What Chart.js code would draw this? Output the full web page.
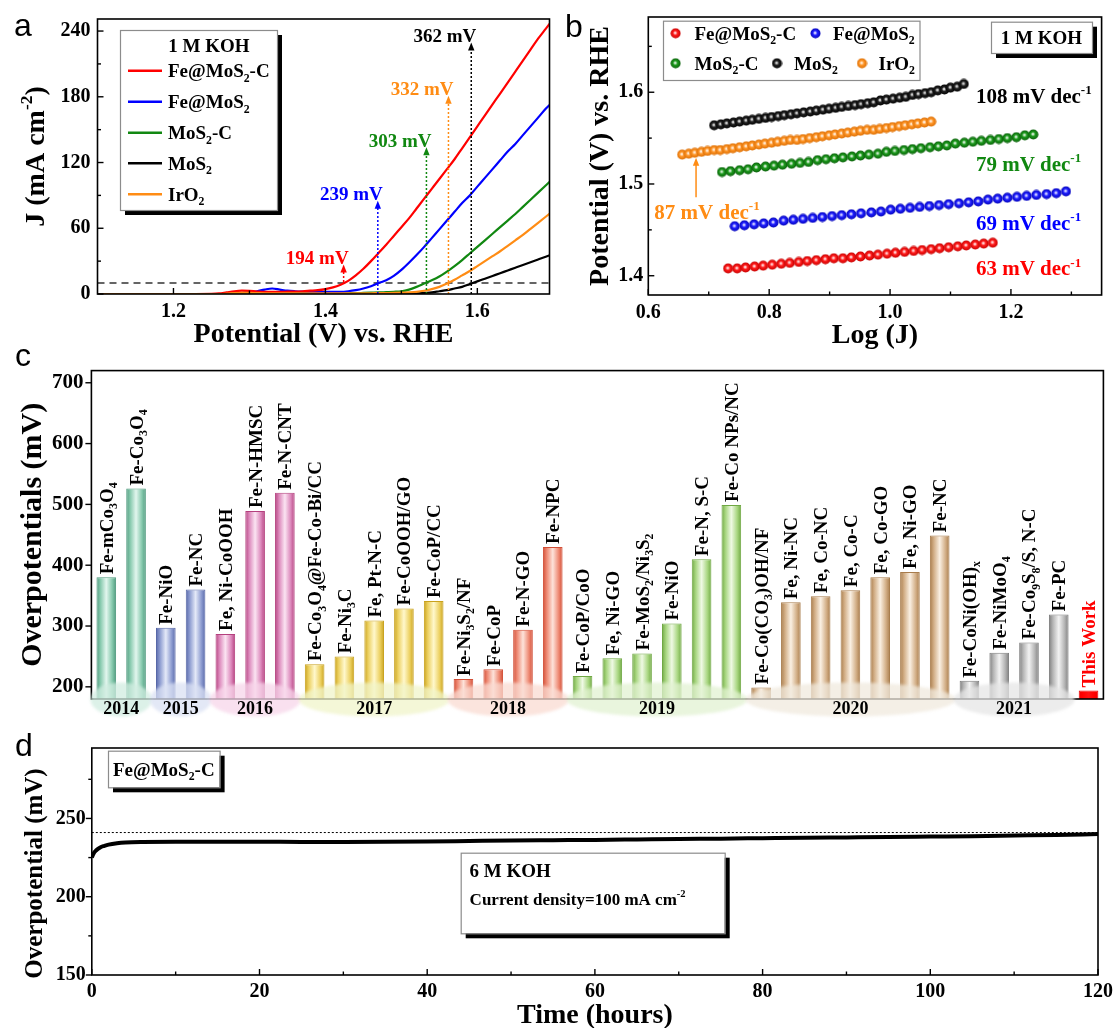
<!DOCTYPE html>
<html><head><meta charset="utf-8">
<script src="https://cdn.jsdelivr.net/npm/chart.js@4.4.1/dist/chart.umd.min.js"></script>
<style>
html,body{margin:0;padding:0;background:#fff;}
#wrap{position:relative;width:1118px;height:1028px;overflow:hidden;background:#fff;}
canvas{position:absolute;}
.pl{position:absolute;font-family:'Liberation Sans',Arial,sans-serif;font-size:32px;line-height:32px;color:#000;}
</style></head><body>
<div id="wrap">
<canvas id="ca" style="left:0;top:0" width="560" height="350"></canvas>
<canvas id="cb" style="left:560px;top:0" width="558" height="350"></canvas>
<canvas id="cc" style="left:0;top:350px" width="1118" height="385"></canvas>
<canvas id="cd" style="left:0;top:730px" width="1118" height="298"></canvas>
<div class="pl" style="left:14px;top:9px">a</div>
<div class="pl" style="left:565px;top:10px">b</div>
<div class="pl" style="left:15px;top:339px">c</div>
<div class="pl" style="left:15px;top:729px">d</div>
</div>
<script>
// ================= DATA =================
// Panel a: LSV curves
const potentialA = [1.10,1.15,1.20,1.25,1.26,1.27,1.28,1.29,1.30,1.31,1.32,1.33,1.34,1.35,1.36,1.37,1.38,1.39,1.40,1.41,1.42,1.43,1.44,1.45,1.46,1.47,1.48,1.49,1.50,1.51,1.52,1.53,1.54,1.55,1.56,1.57,1.58,1.59,1.60,1.61,1.62,1.63,1.64,1.65,1.66,1.67,1.68,1.69,1.70];
const jFeMoS2C = [0,0,0,0.2, 0.5,1.5,2.5,3,2.8, 2.3,2,2,2,2.1, 2.2,2.5,3,3.5,4.5, 6,8.5,12,17,23, 30,37.5,45,53,61, 69,78,87,96,105, 114,123,133,143,153, 163,173,183,193,203, 213,223,233,242,251];
const jFeMoS2  = [0,0,0,0, 0,0,0.3,0.8,1.5, 2.5,4,5,4,3, 2.5,2.2,2,2,2, 2,2,2.5,3.5,5, 7,10,12.5,16.5,22, 28.5,35.5,43,51,59, 67,75,83,90,98, 106,114,122,130,137, 145,153,161,169,176];
const jMoS2C   = [0,0,0,0, 0,0,0.5,1,1.5, 1.5,1.5,1.5,1.5,1.5, 1.2,1,0.8,0.7,0.6, 0.6,0.6,0.7,0.8,1, 1.2,1.4,1.7,2,2.5, 4,6.5,9.5,12.5,16, 20.5,25.5,31,37,43, 49,55,61,67,73, 79.5,86,92.5,99,105.5];
const jMoS2    = [0,0,0,0, 0,0,0,0,0, 0,0,0,0,0, 0,0,0,0,0, 0,0,0,0,0, 0,0,0,0,0.1, 0.2,0.5,1,1.5,2.5, 3.5,5,6.5,9,11.5, 14,16.5,19,21.5,24, 26.5,29,31.5,34,36.5];
const jIrO2    = [0,0,0,0, 0,0.3,0.8,1,1, 0.8,0.6,0.5,0.5,0.5, 0.5,0.5,0.5,0.5,0.5, 0.5,0.5,0.5,0.5,0.6, 0.7,0.8,0.9,1,1.2, 1.5,2,3,4.5,6.5, 9.5,13,17,21,25.5, 30,34.5,39,44,49, 54,59.5,65,70.5,76];
const refCurrent = 10;
const onsetPotential = [1.424,1.469,1.533,1.562,1.592];
const onsetLabels = ['194 mV','239 mV','303 mV','332 mV','362 mV'];
const onsetArrowBase = [11,0,0,0,0];
const onsetArrowTop = [27,85,134,181,229.5];

// Panel b: Tafel plots
const logJ_FeMoS2C = [0.732,0.747,0.761,0.776,0.790,0.805,0.820,0.834,0.849,0.863,0.878,0.893,0.907,0.922,0.936,0.951,0.966,0.980,0.995,1.009,1.024,1.039,1.053,1.068,1.082,1.097,1.112,1.126,1.141,1.155,1.170];
const E_FeMoS2C    = [1.408,1.408,1.409,1.410,1.411,1.412,1.413,1.414,1.415,1.416,1.417,1.418,1.419,1.419,1.420,1.421,1.422,1.423,1.424,1.425,1.426,1.427,1.428,1.429,1.430,1.431,1.432,1.433,1.434,1.435,1.436];
const logJ_FeMoS2  = [0.743,0.759,0.775,0.791,0.807,0.824,0.840,0.856,0.872,0.888,0.904,0.920,0.936,0.952,0.969,0.985,1.001,1.017,1.033,1.049,1.065,1.081,1.097,1.114,1.130,1.146,1.162,1.178,1.194,1.210,1.226,1.242,1.259,1.275,1.291];
const E_FeMoS2     = [1.454,1.455,1.456,1.457,1.458,1.460,1.461,1.462,1.463,1.464,1.465,1.466,1.467,1.468,1.469,1.470,1.472,1.473,1.474,1.475,1.476,1.477,1.478,1.479,1.480,1.481,1.483,1.484,1.485,1.486,1.487,1.488,1.489,1.490,1.492];
const logJ_MoS2C   = [0.722,0.736,0.751,0.765,0.779,0.794,0.808,0.822,0.837,0.851,0.865,0.880,0.894,0.908,0.922,0.937,0.951,0.965,0.980,0.994,1.008,1.023,1.037,1.051,1.066,1.080,1.094,1.108,1.123,1.137,1.151,1.166,1.180,1.194,1.209,1.223,1.237];
const E_MoS2C      = [1.513,1.514,1.515,1.516,1.518,1.519,1.520,1.521,1.522,1.523,1.524,1.526,1.527,1.528,1.529,1.530,1.531,1.532,1.533,1.535,1.536,1.537,1.538,1.539,1.540,1.541,1.542,1.544,1.545,1.546,1.547,1.548,1.549,1.550,1.551,1.553,1.554];
const logJ_MoS2    = [0.709,0.720,0.730,0.741,0.751,0.762,0.772,0.783,0.794,0.804,0.815,0.825,0.836,0.846,0.857,0.868,0.878,0.889,0.899,0.910,0.920,0.931,0.942,0.952,0.963,0.973,0.984,0.994,1.005,1.016,1.026,1.037,1.047,1.058,1.068,1.079,1.090,1.100,1.111,1.122];
const E_MoS2       = [1.564,1.565,1.566,1.567,1.568,1.569,1.570,1.571,1.572,1.573,1.574,1.575,1.576,1.577,1.578,1.579,1.580,1.581,1.582,1.583,1.584,1.585,1.586,1.587,1.588,1.589,1.591,1.592,1.593,1.594,1.595,1.597,1.598,1.599,1.600,1.602,1.603,1.605,1.606,1.609];
const logJ_IrO2    = [0.656,0.667,0.677,0.688,0.698,0.709,0.719,0.730,0.740,0.751,0.762,0.772,0.783,0.793,0.804,0.814,0.825,0.835,0.846,0.856,0.867,0.878,0.888,0.899,0.909,0.920,0.930,0.941,0.951,0.962,0.973,0.983,0.994,1.004,1.015,1.025,1.036,1.046,1.057,1.068];
const E_IrO2       = [1.532,1.533,1.534,1.535,1.536,1.537,1.537,1.538,1.539,1.540,1.541,1.542,1.543,1.544,1.545,1.546,1.547,1.548,1.548,1.549,1.550,1.551,1.552,1.553,1.554,1.555,1.556,1.557,1.558,1.559,1.559,1.560,1.561,1.562,1.563,1.564,1.565,1.566,1.567,1.568];
const tafelSlopes = ['63 mV dec^{-1}','69 mV dec^{-1}','79 mV dec^{-1}','108 mV dec^{-1}','87 mV dec^{-1}'];

// Panel c: literature comparison
const catalysts = ['Fe-mCo_{3}O_{4}','Fe-Co_{3}O_{4}','Fe-NiO','Fe-NC','Fe, Ni-CoOOH','Fe-N-HMSC','Fe-N-CNT',
 'Fe-Co_{3}O_{4}@Fe-Co-Bi/CC','Fe-Ni_{3}C','Fe, Pt-N-C','Fe-CoOOH/GO','Fe-CoP/CC',
 'Fe-Ni_{3}S_{2}/NF','Fe-CoP','Fe-N-GO','Fe-NPC',
 'Fe-CoP/CoO','Fe, Ni-GO','Fe-MoS_{2}/Ni_{3}S_{2}','Fe-NiO','Fe-N, S-C','Fe-Co NPs/NC',
 'Fe-Co(CO_{3})OH/NF','Fe, Ni-NC','Fe, Co-NC','Fe, Co-C','Fe, Co-GO','Fe, Ni-GO','Fe-NC',
 'Fe-CoNi(OH)_{x}','Fe-NiMoO_{4}','Fe-Co_{9}S_{8}/S, N-C','Fe-PC','This Work'];
const overpotentials = [380,526,297,360,287,489,519,237,250,309,329,341,213,229,294,430,218,247,255,304,410,499,199,339,349,359,380,389,449,210,256,273,319,194];
const pubYears = ['2014','2014','2015','2015','2016','2016','2016','2017','2017','2017','2017','2017','2018','2018','2018','2018','2019','2019','2019','2019','2019','2019','2020','2020','2020','2020','2020','2020','2020','2021','2021','2021','2021','This Work'];

// Panel d: stability
const timeHours = [0,0.2,0.5,1,1.5,2,3,4,6,10,15,20,25,30,35,40,45,50,55,60,65,70,75,80,85,90,95,100,105,110,115,120];
const etaStability = [225,227.5,229.5,231.5,232.5,233.3,234.2,234.7,235,235.1,235.1,235.1,235,235,235.1,235.3,235.6,235.9,236.1,236.3,236.6,236.9,237.1,237.4,237.7,237.9,238.1,238.4,238.7,239.1,239.5,240];
const etaReference = 241;

// ================= STYLE / HELPERS =================
const SERIF = "'Liberation Serif','Times New Roman',serif";
Chart.defaults.font.family = SERIF;
Chart.defaults.font.weight = 'bold';
Chart.defaults.color = '#000';
const RED='#ff0000', BLUE='#0000ff', GREEN='#118811', BLACK='#000000', ORANGE='#ff8c14';

function parseRich(s){const out=[];let i=0,buf='';while(i<s.length){const c=s[i];if((c==='_'||c==='^')&&s[i+1]==='{'){if(buf){out.push({t:buf,m:0});buf='';}const j=s.indexOf('}',i);out.push({t:s.slice(i+2,j),m:c==='_'?1:2});i=j+1;}else{buf+=c;i++;}}if(buf)out.push({t:buf,m:0});return out;}
function plain(s){return parseRich(s).map(x=>x.t).join('');}
function richWidth(ctx,s,size){let w=0;for(const g of parseRich(s)){ctx.font=`bold ${g.m?size*0.62:size}px ${SERIF}`;w+=ctx.measureText(g.t).width;}return w;}
function drawRich(ctx,s,x,y,size,color,align){const w=richWidth(ctx,s,size);let cx=align==='center'?x-w/2:align==='right'?x-w:x;ctx.save();ctx.fillStyle=color;ctx.textBaseline='alphabetic';ctx.textAlign='left';for(const g of parseRich(s)){const fs=g.m?size*0.62:size;ctx.font=`bold ${fs}px ${SERIF}`;const dy=g.m===1?size*0.24:g.m===2?-size*0.42:0;ctx.fillText(g.t,cx,y+dy);cx+=ctx.measureText(g.t).width;}ctx.restore();return w;}
function drawRichRot(ctx,s,cx,cy,size,color){ctx.save();ctx.translate(cx,cy);ctx.rotate(-Math.PI/2);drawRich(ctx,s,0,size*0.34,size,color,'center');ctx.restore();}
function seg(ctx,x1,y1,x2,y2){ctx.beginPath();ctx.moveTo(x1,y1);ctx.lineTo(x2,y2);ctx.stroke();}
function shadowBox(ctx,x,y,w,h,sh){ctx.save();if(sh){ctx.fillStyle='#000';ctx.fillRect(x+sh,y+sh,w,h);}ctx.fillStyle='#fff';ctx.fillRect(x,y,w,h);ctx.strokeStyle='#8c8c8c';ctx.lineWidth=1.2;ctx.strokeRect(x+0.5,y+0.5,w,h);ctx.restore();}
function upArrow(ctx,x,yBase,yTip,color,dash){ctx.save();ctx.strokeStyle=color;ctx.fillStyle=color;ctx.lineWidth=1.5;if(dash)ctx.setLineDash(dash);seg(ctx,x,yBase,x,yTip+6);ctx.setLineDash([]);ctx.beginPath();ctx.moveTo(x,yTip);ctx.lineTo(x-3.2,yTip+8);ctx.lineTo(x+3.2,yTip+8);ctx.closePath();ctx.fill();ctx.restore();}

function frameTicks(o){
  return {id:'frameTicks',afterDraw(chart){
    const {ctx,chartArea:a}=chart;const xs=chart.scales.x,ys=chart.scales.y;
    ctx.save();ctx.strokeStyle='#000';ctx.setLineDash([]);ctx.lineWidth=1.6;
    ctx.strokeRect(a.left,a.top,a.right-a.left,a.bottom-a.top);
    ctx.lineWidth=1.4;
    if(o.xTick){xs.ticks.forEach(t=>{const p=xs.getPixelForValue(t.value);seg(ctx,p,a.bottom,p,a.bottom-o.xTick*6);});
      (o.xMinor||[]).forEach(v=>{const p=xs.getPixelForValue(v);if(p>a.left+1&&p<a.right-1)seg(ctx,p,a.bottom,p,a.bottom-o.xTick*3.5);});}
    if(o.yTick){ys.ticks.forEach(t=>{const p=ys.getPixelForValue(t.value);seg(ctx,a.left,p,a.left+o.yTick*6,p);});
      (o.yMinor||[]).forEach(v=>{const p=ys.getPixelForValue(v);if(p>a.top+1&&p<a.bottom-1)seg(ctx,a.left,p,a.left+o.yTick*3.5,p);});}
    ctx.restore();
  }};
}
function axisOpts(o){
  const t={font:{size:o.font,weight:'bold',family:SERIF},color:'#000',padding:o.pad,maxRotation:0,includeBounds:false};
  if(o.step!==undefined)t.stepSize=o.step;
  if(o.fmt)t.callback=o.fmt;
  if(o.hide)t.display=false;
  const r={type:o.type||'linear',grid:{display:false,drawTicks:false,tickLength:0},border:{display:false},ticks:t};
  if(o.min!==undefined)r.min=o.min; if(o.max!==undefined)r.max=o.max;
  if(o.offset!==undefined)r.offset=o.offset;
  if(o.w!==undefined)r.afterFit=s=>{s.width=o.w;};
  if(o.h!==undefined)r.afterFit=s=>{s.height=o.h;};
  return r;
}
function baseOptions(pad,x,y){
  return {responsive:false,animation:false,devicePixelRatio:1,
    layout:{padding:pad},
    plugins:{legend:{display:false},tooltip:{enabled:false}},
    scales:{x:axisOpts(x),y:axisOpts(y)}};
}
const xy=(xs,ys)=>xs.map((v,i)=>({x:v,y:ys[i]}));

// ================= PANEL A =================
const seriesA=[
 {name:'IrO_{2}',data:jIrO2,color:ORANGE},
 {name:'Fe@MoS_{2}-C',data:jFeMoS2C,color:RED},
 {name:'Fe@MoS_{2}',data:jFeMoS2,color:BLUE},
 {name:'MoS_{2}-C',data:jMoS2C,color:GREEN},
 {name:'MoS_{2}',data:jMoS2,color:BLACK}];
const legendOrderA=[1,2,3,4,0];
const onsetColors=[RED,BLUE,GREEN,ORANGE,BLACK];
new Chart(document.getElementById('ca'),{
  type:'line',
  data:{datasets:[...seriesA.map(s=>({label:plain(s.name),data:xy(potentialA,s.data),borderColor:s.color,borderWidth:2.2,pointRadius:0,cubicInterpolationMode:'monotone',fill:false})),
    {label:'10 mA cm-2',data:[{x:1.1,y:refCurrent},{x:1.7,y:refCurrent}],borderColor:'#333',borderWidth:1.5,borderDash:[7,5],pointRadius:0}]},
  options:baseOptions({top:16,right:10.5,left:0,bottom:0},
    {min:1.1,max:1.695,step:0.2,font:20,pad:6,fmt:v=>v.toFixed(1),h:56},
    {min:0,max:251,step:60,font:20,pad:7,w:97.5}),
  plugins:[frameTicks({xTick:1,yTick:1,xMinor:[1.1,1.3,1.5],yMinor:[30,90,150,210]}),
  {id:'annA',afterDatasetsDraw(chart){
    const {ctx}=chart;const xs=chart.scales.x,ys=chart.scales.y;
    onsetPotential.forEach((v,i)=>{const px=xs.getPixelForValue(v);const yt=ys.getPixelForValue(onsetArrowTop[i]);
      upArrow(ctx,px,ys.getPixelForValue(onsetArrowBase[i]),yt,onsetColors[i],[2,2]);
      drawRich(ctx,onsetLabels[i],px+5,yt-0.5,19,onsetColors[i],'right');});
  },afterDraw(chart){
    const {ctx,chartArea:a}=chart;
    shadowBox(ctx,120,30,157,180,5);
    drawRich(ctx,'1 M KOH',209,52,19,'#000','center');
    const rows=[70.7,101.7,132.7,163.3,194.3];
    legendOrderA.forEach((k,i)=>{const s=seriesA[k];ctx.save();ctx.strokeStyle=s.color;ctx.lineWidth=2.5;seg(ctx,128,rows[i],162,rows[i]);ctx.restore();
      drawRich(ctx,s.name,168,rows[i]+6.5,19,'#000','left');});
    drawRichRot(ctx,'J (mA cm^{-2})',34,(a.top+a.bottom)/2,28,'#000');
    drawRich(ctx,'Potential (V) vs. RHE',(a.left+a.right)/2,a.bottom+48,28,'#000','center');
  }}]
});

// ================= PANEL B =================
function sphere(color,dark){const c=document.createElement('canvas');c.width=c.height=11;const g=c.getContext('2d');
  const gr=g.createRadialGradient(5,5,0.2,5.5,5.5,5.4);gr.addColorStop(0,'#ffffff');gr.addColorStop(0.4,color);gr.addColorStop(1,dark);
  g.fillStyle=gr;g.beginPath();g.arc(5.5,5.5,5,0,Math.PI*2);g.fill();return c;}
const seriesB=[
 {name:'Fe@MoS_{2}-C',x:logJ_FeMoS2C,y:E_FeMoS2C,color:RED,img:sphere('#ff1a1a','#c00000')},
 {name:'Fe@MoS_{2}',x:logJ_FeMoS2,y:E_FeMoS2,color:BLUE,img:sphere('#2020ff','#0000b0')},
 {name:'MoS_{2}-C',x:logJ_MoS2C,y:E_MoS2C,color:GREEN,img:sphere('#1c9a1c','#0a5a0a')},
 {name:'MoS_{2}',x:logJ_MoS2,y:E_MoS2,color:BLACK,img:sphere('#222222','#000000')},
 {name:'IrO_{2}',x:logJ_IrO2,y:E_IrO2,color:ORANGE,img:sphere('#ff9628','#d86a00')}];
const slopeAnno=[
 {text:tafelSlopes[0],x:1.142,y:1.408,color:RED},
 {text:tafelSlopes[1],x:1.142,y:1.4575,color:BLUE},
 {text:tafelSlopes[2],x:1.142,y:1.522,color:GREEN},
 {text:tafelSlopes[3],x:1.142,y:1.5964,color:BLACK},
 {text:tafelSlopes[4],x:0.61,y:1.470,color:ORANGE}];
new Chart(document.getElementById('cb'),{
  type:'scatter',
  data:{datasets:seriesB.map(s=>({label:plain(s.name),data:xy(s.x,s.y),pointStyle:s.img,pointRadius:5,backgroundColor:s.color,borderColor:s.color,showLine:false}))},
  options:baseOptions({top:15,right:16.4,left:0,bottom:0},
    {min:0.6,max:1.35,step:0.2,font:20,pad:6,fmt:v=>v.toFixed(1),h:55},
    {min:1.379,max:1.682,step:0.1,font:20,pad:5,fmt:v=>v.toFixed(1),w:88.3}),
  plugins:[frameTicks({xTick:1,yTick:1,xMinor:[0.7,0.9,1.1,1.3],yMinor:[1.45,1.55,1.65]}),
  {id:'annB',afterDraw(chart){
    const {ctx,chartArea:a}=chart;const xs=chart.scales.x,ys=chart.scales.y;
    slopeAnno.forEach(s=>drawRich(ctx,s.text,xs.getPixelForValue(s.x),ys.getPixelForValue(s.y)+7,21,s.color,'left'));
    upArrow(ctx,xs.getPixelForValue(0.679),ys.getPixelForValue(1.4855),ys.getPixelForValue(1.5286),ORANGE,null);
    ctx.save();ctx.strokeStyle='#8c8c8c';ctx.lineWidth=1.2;ctx.fillStyle='#fff';ctx.fillRect(103,20.7,256.5,59.3);ctx.strokeRect(103.5,21.2,256.5,59.3);ctx.restore();
    const L=[[0,115.6,33.3,134.5],[1,255.5,33.3,273],[2,115.6,63.3,134.5],[3,217,63.3,234],[4,302,63.3,318.5]];
    L.forEach(([k,mx,my,tx])=>{const s=seriesB[k];ctx.drawImage(s.img,mx-5.5,my-5.5);drawRich(ctx,s.name,tx,my+6.5,19,'#000','left');});
    shadowBox(ctx,431,21.7,101,31.3,5);
    drawRich(ctx,'1 M KOH',481.5,44,19,'#000','center');
    drawRichRot(ctx,'Potential (V) vs. RHE',38,(a.top+a.bottom)/2,28,'#000');
    drawRich(ctx,'Log (J)',(a.left+a.right)/2,a.bottom+48,28,'#000','center');
  }}]
});

// ================= PANEL C =================
const yearStyle={
 '2014':{edge:'#4f9a7e',base:'#86c9ad',light:'#e2f6ee',ell:'rgba(208,236,224,0.75)'},
 '2015':{edge:'#5868a8',base:'#8c9bd0',light:'#e4e9f8',ell:'rgba(218,224,243,0.75)'},
 '2016':{edge:'#b4407e',base:'#dc88bb',light:'#fbe4f2',ell:'rgba(247,214,234,0.75)'},
 '2017':{edge:'#c9a21e',base:'#ecd060',light:'#fff8cc',ell:'rgba(240,244,202,0.75)'},
 '2018':{edge:'#d24e36',base:'#ee8a74',light:'#fde3da',ell:'rgba(250,219,210,0.75)'},
 '2019':{edge:'#70a844',base:'#a8d680',light:'#eff9e4',ell:'rgba(226,241,210,0.75)'},
 '2020':{edge:'#a87c4c',base:'#d2ae86',light:'#faf0e3',ell:'rgba(240,234,222,0.75)'},
 '2021':{edge:'#7e7e7e',base:'#b4b4b4',light:'#f3f3f3',ell:'rgba(230,230,230,0.75)'},
 'This Work':{edge:'#ee0000',base:'#ff0000',light:'#ff1010'}};
const BARPCT=0.66;
function barFill(c){const st=yearStyle[pubYears[c.dataIndex]];const ch=c.chart;const xs=ch.scales&&ch.scales.x;
  if(!xs||!ch.chartArea)return st.base;const cx=xs.getPixelForValue(c.dataIndex);if(!isFinite(cx))return st.base;
  const w=xs.width/pubYears.length*BARPCT;const g=ch.ctx.createLinearGradient(cx-w/2,0,cx+w/2,0);
  g.addColorStop(0,st.edge);g.addColorStop(0.2,st.base);g.addColorStop(0.5,st.light);g.addColorStop(0.8,st.base);g.addColorStop(1,st.edge);return g;}
const groups=[];pubYears.forEach((y,i)=>{if(y==='This Work')return;const g=groups[groups.length-1];if(g&&g.year===y)g.end=i;else groups.push({year:y,start:i,end:i});});
new Chart(document.getElementById('cc'),{
  type:'bar',
  data:{labels:catalysts.map(plain),datasets:[{label:'Overpotential (mV)',data:overpotentials,backgroundColor:barFill,borderColor:c=>yearStyle[pubYears[c.dataIndex]].edge,borderWidth:1,barPercentage:BARPCT,categoryPercentage:1}]},
  options:baseOptions({top:8.3,right:14.6,left:0,bottom:0},
    {type:'category',offset:true,hide:true,font:10,pad:0,h:36},
    {min:180,max:720,step:100,font:21,pad:8,w:91.4}),
  plugins:[{id:'lblC',afterDatasetsDraw(chart){
    const {ctx}=chart;const meta=chart.getDatasetMeta(0);
    meta.data.forEach((bar,i)=>{const isMe=pubYears[i]==='This Work';const txt=catalysts[i];const size=19;
      ctx.save();ctx.translate(bar.x,bar.y-3);ctx.rotate(-Math.PI/2);drawRich(ctx,txt,0,size*0.34,size,isMe?'#ff0000':'#000','left');ctx.restore();});
  }},
  frameTicks({yTick:-1}),
  {id:'yearsC',afterDraw(chart){
    const {ctx,chartArea:a}=chart;const xs=chart.scales.x;const cw=xs.width/pubYears.length;
    groups.forEach(g=>{const l=xs.getPixelForValue(g.start)-cw/2,r=xs.getPixelForValue(g.end)+cw/2;const cx=(l+r)/2;
      ctx.save();ctx.filter='blur(1.5px)';ctx.fillStyle=yearStyle[g.year].ell;ctx.beginPath();ctx.ellipse(cx,a.bottom+0.5,(r-l)/2+1,17,0,0,Math.PI*2);ctx.fill();ctx.restore();
      drawRich(ctx,g.year,cx,a.bottom+14.5,18,'#000','center');});
    drawRichRot(ctx,'Overpotentials (mV)',31,(a.top+a.bottom)/2,30,'#000');
  }}]
});

// ================= PANEL D =================
new Chart(document.getElementById('cd'),{
  type:'line',
  data:{datasets:[
    {label:'Fe@MoS2-C',data:xy(timeHours,etaStability),borderColor:'#000',borderWidth:4,pointRadius:0,cubicInterpolationMode:'monotone'},
    {label:'reference',data:[{x:0,y:etaReference},{x:120,y:etaReference}],borderColor:'#000',borderWidth:1,borderDash:[2,2],pointRadius:0}]},
  options:baseOptions({top:9.3,right:17.8,left:0,bottom:0},
    {min:0,max:120,step:20,font:20,pad:5,h:53},
    {min:150,max:295,step:50,font:20,pad:6,w:91.8}),
  plugins:[frameTicks({xTick:1,yTick:-1,xMinor:[10,30,50,70,90,110],yMinor:[175,225,275]}),
  {id:'annD',afterDraw(chart){
    const {ctx,chartArea:a}=chart;
    shadowBox(ctx,108,20.7,111.6,36.6,5);
    drawRich(ctx,'Fe@MoS_{2}-C',163.8,45.5,19,'#000','center');
    shadowBox(ctx,460.7,122.7,264,80.6,5);
    drawRich(ctx,'6 M KOH',469.6,147,19,'#000','left');
    drawRich(ctx,'Current density=100 mA cm^{-2}',469.6,174.5,17,'#000','left');
    drawRichRot(ctx,'Overpotential (mV)',33,(a.top+a.bottom)/2+12,25,'#000');
    drawRich(ctx,'Time (hours)',(a.left+a.right)/2,a.bottom+48,28,'#000','center');
  }}]
});
</script>
</body></html>
